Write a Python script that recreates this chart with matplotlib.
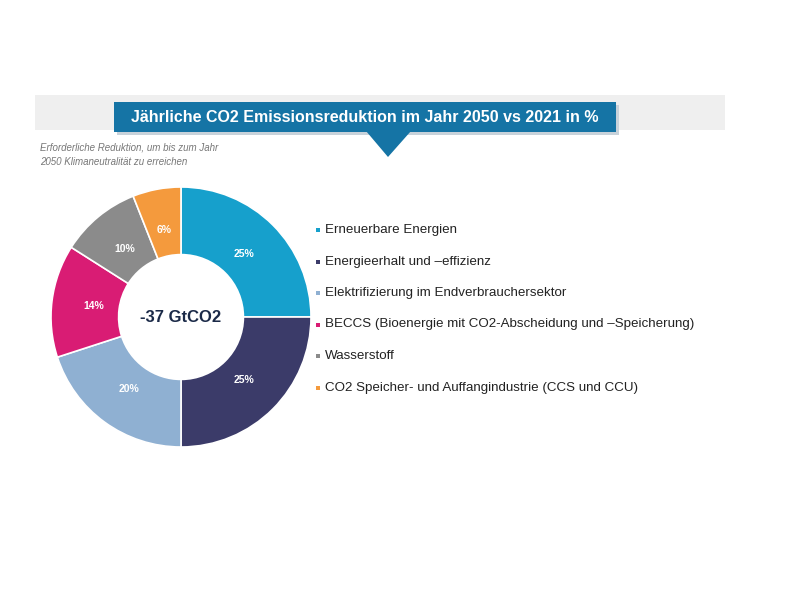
import matplotlib.pyplot as plt
from matplotlib.patches import Rectangle, Polygon

labels = ["Erneuerbare Energien",
          "Energieerhalt und \u2013effizienz",
          "Elektrifizierung im Endverbrauchersektor",
          "BECCS (Bioenergie mit CO2-Abscheidung und \u2013Speicherung)",
          "Wasserstoff",
          "CO2 Speicher- und Auffangindustrie (CCS und CCU)"]
shares = [25, 25, 20, 14, 10, 6]
colors = ["#16a0cc", "#3b3b69", "#8fb0d2", "#d91c74", "#8b8b8b", "#f49a3d"]

title = "Jährliche CO2 Emissionsreduktion im Jahr 2050 vs 2021 in %"
note = "Erforderliche Reduktion, um bis zum Jahr\n2050 Klimaneutralität zu erreichen"
center_text = "-37 GtCO2"

W, H = 800, 600
fig = plt.figure(figsize=(8, 6), dpi=100)
fig.patch.set_facecolor("white")

# background layer in pixel coordinates (y down)
bg = fig.add_axes([0, 0, 1, 1])
bg.set_xlim(0, W)
bg.set_ylim(H, 0)
bg.axis("off")

bg.add_patch(Rectangle((35, 95), 690, 35, color="#efefef", lw=0))
bg.add_patch(Rectangle((117, 105), 502, 30, color="#c8d2da", lw=0))  # shadow
bg.add_patch(Rectangle((114, 102), 502, 30, color="#1574a5", lw=0))
bg.add_patch(Polygon([(366, 131), (411, 131), (388, 157)], closed=True,
                     color="#1574a5", lw=0))
bg.text(365, 117, title, color="white", fontsize=11.5, fontweight="bold",
        ha="center", va="center", family="Liberation Sans")
bg.text(40, 155, note, color="#777777", fontsize=7, style="italic",
        ha="left", va="center", linespacing=1.5, family="Liberation Sans")

# legend
y0, dy = 230, 31.5
for i, (lab, c) in enumerate(zip(labels, colors)):
    y = y0 + i * dy
    bg.add_patch(Rectangle((316, y - 2), 4, 4, color=c, lw=0))
    bg.text(325, y, lab, color="#222222", fontsize=9.6, ha="left", va="center",
            family="Liberation Sans")

# donut
ax = fig.add_axes([51 / W, 1 - 447 / H, 260 / W, 260 / H])
wedges, texts, autotexts = ax.pie(
    shares, colors=colors, startangle=90, counterclock=False,
    autopct="%d%%", pctdistance=0.68,
    wedgeprops=dict(width=0.52, edgecolor="white", linewidth=1.2),
    textprops=dict(color="white", fontsize=7.5, fontweight="bold",
                   family="Liberation Sans"))
ax.text(0, 0, center_text, ha="center", va="center", fontsize=12,
        fontweight="bold", color="#1b2a48", family="Liberation Sans")
ax.set_xlim(-1, 1)
ax.set_ylim(-1, 1)
ax.set_aspect("equal")

fig.savefig("out.png", dpi=100)
